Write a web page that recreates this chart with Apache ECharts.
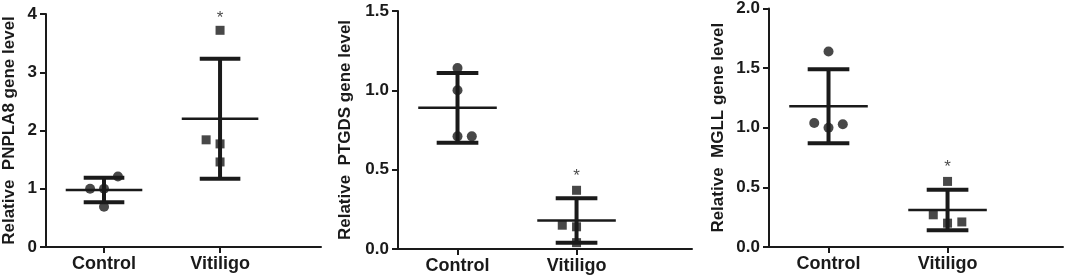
<!DOCTYPE html>
<html>
<head>
<meta charset="utf-8">
<script src="https://cdn.jsdelivr.net/npm/echarts@6/dist/echarts.min.js"></script>
<style>
html, body { margin: 0; padding: 0; background: #fff; }
#chart { width: 1065px; height: 279px; }
</style>
</head>
<body>
<div id="chart"></div>
<script>
const groups = ['Control', 'Vitiligo'];
const groupPos = [1, 2];
const yNames = ['Relative  PNPLA8 gene level', 'Relative  PTGDS gene level', 'Relative  MGLL gene level'];
const yMax = [4, 1.5, 2];
const yStep = [1, 0.5, 0.5];
const yDigits = [0, 1, 1];

// single samples, [x position (jittered), value]
const controlPts = [
  [[0.88, 1.0], [1, 1.0], [1.12, 1.21], [1, 0.69]],
  [[1, 1.14], [1, 1.0], [1, 0.71], [1.12, 0.71]],
  [[1, 1.64], [0.88, 1.04], [1, 1.0], [1.12, 1.03]]
];
const vitiligoPts = [
  [[2, 3.72], [1.88, 1.84], [2, 1.77], [2, 1.46]],
  [[2, 0.37], [1.88, 0.15], [2, 0.14], [2, 0.04]],
  [[2, 0.55], [1.88, 0.27], [2, 0.20], [2.12, 0.21]]
];

// mean and SD as drawn
const controlMean = [0.98, 0.89, 1.18];
const controlSd = [0.21, 0.22, 0.31];
const vitiligoMean = [2.20, 0.18, 0.31];
const vitiligoSd = [1.03, 0.14, 0.17];
const starY = [3.93, 0.46, 0.67];

const ink = '#1a1a1a';
const font = 'Liberation Sans, Arial, sans-serif';

const grids = [
  { left: 43, top: 14, width: 278, height: 233 },
  { left: 398, top: 11, width: 294, height: 238 },
  { left: 769, top: 8, width: 294, height: 239 }
];
const xMax = [2.87, 2.97, 2.97];
const nameGaps = [28, 44, 42];

function renderBars (params, api) {
  let x = api.value(0), m = api.value(1), sd = api.value(2)
  let c = api.coord([x, m])
  let top = api.coord([x, m + sd])
  let bot = api.coord([x, m - sd])
  let mL = api.coord([x - 0.33, m])[0]
  let mR = api.coord([x + 0.33, m])[0]
  let cL = api.coord([x - 0.175, m])[0]
  let cR = api.coord([x + 0.175, m])[0]
  let thick = { stroke: ink, lineWidth: 4 }
  return {
    type: 'group',
    children: [
      { type: 'line', shape: { x1: mL, y1: c[1], x2: mR, y2: c[1] }, style: { stroke: ink, lineWidth: 2.5 } },
      { type: 'line', shape: { x1: c[0], y1: top[1], x2: c[0], y2: bot[1] }, style: thick },
      { type: 'line', shape: { x1: cL, y1: top[1], x2: cR, y2: top[1] }, style: thick },
      { type: 'line', shape: { x1: cL, y1: bot[1], x2: cR, y2: bot[1] }, style: thick }
    ]
  }
}

let xAxis = [], yAxis = [], series = []
grids.forEach((g, i) => {
  xAxis.push({
    gridIndex: i,
    type: 'value',
    min: 0.5,
    max: xMax[i],
    splitLine: { show: false },
    axisLine: { onZero: false, lineStyle: { color: ink, width: 2 } },
    axisTick: { customValues: groupPos, length: 6, lineStyle: { color: ink, width: 2 } },
    axisLabel: {
      customValues: groupPos,
      formatter: v => groups[Math.round(v) - 1],
      color: ink, fontFamily: font, fontWeight: 'bold', fontSize: 18, margin: 8
    }
  })
  yAxis.push({
    gridIndex: i,
    type: 'value',
    min: 0,
    max: yMax[i],
    interval: yStep[i],
    splitLine: { show: false },
    axisLine: { show: true, lineStyle: { color: ink, width: 2 } },
    axisTick: { show: true, length: 6, lineStyle: { color: ink, width: 2 } },
    axisLabel: {
      formatter: v => v.toFixed(yDigits[i]),
      color: ink, fontFamily: font, fontWeight: 'bold', fontSize: 17, margin: 9
    },
    name: yNames[i],
    nameLocation: 'middle',
    nameGap: nameGaps[i],
    nameTextStyle: { color: ink, fontFamily: font, fontWeight: 'bold', fontSize: 17 }
  })
  series.push({
    type: 'custom',
    xAxisIndex: i,
    yAxisIndex: i,
    renderItem: renderBars,
    data: [[1, controlMean[i], controlSd[i]], [2, vitiligoMean[i], vitiligoSd[i]]],
    z: 2
  })
  series.push({
    type: 'scatter',
    xAxisIndex: i,
    yAxisIndex: i,
    symbol: 'circle',
    symbolSize: 10,
    itemStyle: { color: ink },
    data: controlPts[i],
    z: 3
  })
  series.push({
    type: 'scatter',
    xAxisIndex: i,
    yAxisIndex: i,
    symbol: 'rect',
    symbolSize: 9,
    itemStyle: { color: ink },
    data: vitiligoPts[i],
    z: 3
  })
  series.push({
    type: 'scatter',
    xAxisIndex: i,
    yAxisIndex: i,
    symbolSize: 0,
    silent: true,
    label: {
      show: true, position: 'inside', formatter: '*',
      color: ink, fontFamily: font, fontSize: 17
    },
    data: [[2, starY[i]]]
  })
})

let myChart = echarts.init(document.getElementById('chart'))
myChart.setOption({
  animation: false,
  grid: grids,
  xAxis: xAxis,
  yAxis: yAxis,
  series: series
})
</script>
</body>
</html>
